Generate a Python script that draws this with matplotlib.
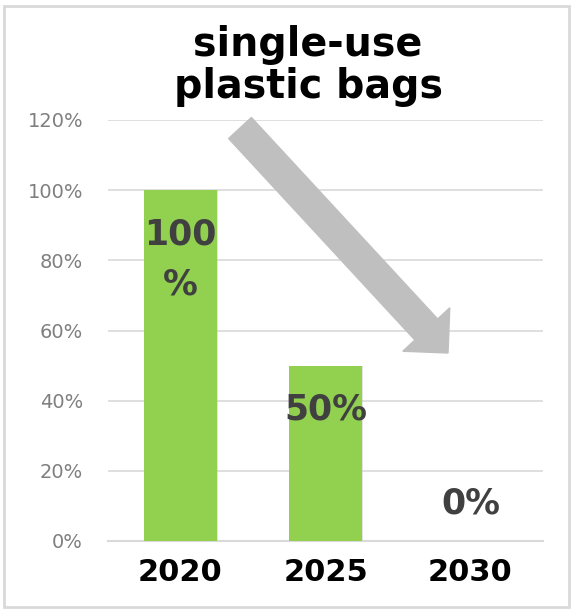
import matplotlib
matplotlib.use("Agg")
import matplotlib.pyplot as plt
from matplotlib.patches import FancyArrow, Rectangle

years = ["2020", "2025", "2030"]
shares = [1.0, 0.5, 0.0]
value_labels = ["100\n%", "50%", "0%"]
yticks = [0, 0.2, 0.4, 0.6, 0.8, 1.0, 1.2]
ytick_labels = ["0%", "20%", "40%", "60%", "80%", "100%", "120%"]

plt.rcParams['font.family'] = ['DejaVu Sans']

fig = plt.figure(figsize=(5.73, 6.12), dpi=100)
ax = fig.add_axes([108 / 573, 71 / 612, 435 / 573, 421 / 612])

x = range(len(years))
# faint shadow behind the bars
ax.bar([i + 0.012 for i in x], shares, width=0.5, color="#c8c8c8", alpha=0.5, zorder=2)
ax.bar(x, shares, width=0.5, color="#92d050", zorder=3)

for i, (v, lab) in enumerate(zip(shares, value_labels)):
    if v > 0:
        ax.annotate(lab, (i, v), xytext=(0, -19.5), textcoords="offset points",
                    ha="center", va="top", fontsize=25, fontweight="bold",
                    color="#404040", linespacing=1.62, zorder=4)
    else:
        ax.annotate(lab, (i, v), xytext=(0, 27), textcoords="offset points",
                    ha="center", va="center", fontsize=25, fontweight="bold",
                    color="#404040", zorder=4)

ax.set_xlim(-0.5, 2.5)
ax.set_ylim(0, 1.2)
ax.set_yticks(yticks)
ax.set_yticklabels(ytick_labels)
ax.set_xticks(list(x))
ax.set_xticklabels(years)
ax.tick_params(axis="y", length=0, pad=18, labelsize=14, labelcolor="#7f7f7f")
ax.tick_params(axis="x", length=0, pad=12, labelsize=22)
for t in ax.get_xticklabels():
    t.set_fontweight("bold")
ax.yaxis.grid(True, color="#d9d9d9", linewidth=1.2, zorder=0)
ax.set_axisbelow(True)
for s in ["top", "right", "left"]:
    ax.spines[s].set_visible(False)
ax.spines["bottom"].set_color("#d9d9d9")
ax.spines["bottom"].set_linewidth(1.5)

fig.text(308 / 573, 1 - 66 / 612, "single-use\nplastic bags", ha="center", va="center",
         fontsize=28.5, fontweight="bold", color="black", linespacing=1.08)

# trend arrow
arrow = FancyArrow(2.40, 4.84, 2.08, -2.25, width=0.31, head_width=0.64, head_length=0.32,
                   length_includes_head=True, color="#bfbfbf", transform=fig.dpi_scale_trans,
                   zorder=5)
fig.patches.append(arrow)

# outer border
fig.patches.append(Rectangle((4 / 573, 5 / 612), 565 / 573, 601 / 612, fill=False,
                             edgecolor="#d9d9d9", linewidth=2, transform=fig.transFigure))

fig.savefig("out.png", dpi=100)
